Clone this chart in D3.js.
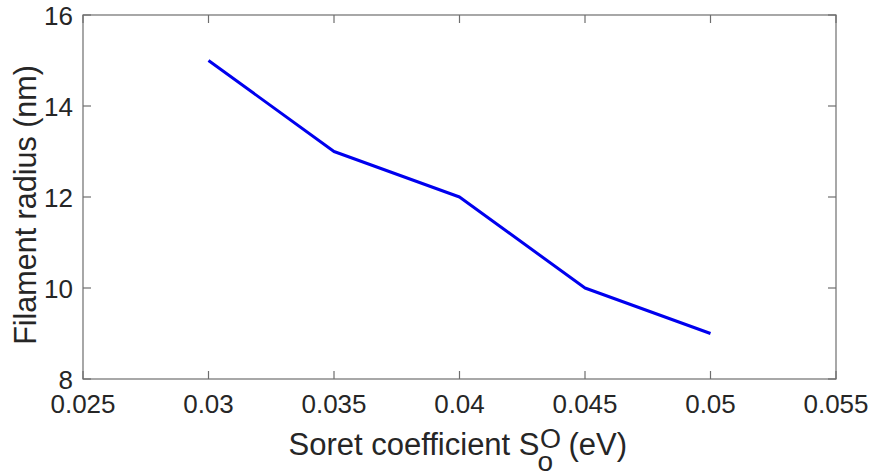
<!DOCTYPE html>
<html><head><meta charset="utf-8">
<script src="https://cdn.jsdelivr.net/npm/d3@7"></script>
<style>
body{margin:0;background:#fff;}
svg text{font-family:"Liberation Sans",Arial,sans-serif;fill:#262626;}
</style></head>
<body><svg id="c" width="873" height="474"></svg>
<script>
const xValues = [0.03, 0.035, 0.04, 0.045, 0.05];
const radius = [15, 13, 12, 10, 9];
const xTicks = [0.025, 0.03, 0.035, 0.04, 0.045, 0.05, 0.055];
const yTicks = [8, 10, 12, 14, 16];

const svg = d3.select("#c");
const L = 83, R = 836, T = 15, B = 379;
const x = d3.scaleLinear().domain([0.025, 0.055]).range([L, R]);
const y = d3.scaleLinear().domain([8, 16]).range([B, T]);
const axisColor = "#6e6e6e";
const tl = 8;

const g = svg.append("g");
g.append("rect").attr("x", L).attr("y", T).attr("width", R - L).attr("height", B - T)
  .attr("fill", "none").attr("stroke", axisColor).attr("stroke-width", 1.2);

xTicks.forEach(t => {
  g.append("line").attr("x1", x(t)).attr("x2", x(t)).attr("y1", B).attr("y2", B - tl).attr("stroke", axisColor).attr("stroke-width", 1.2);
  g.append("line").attr("x1", x(t)).attr("x2", x(t)).attr("y1", T).attr("y2", T + tl).attr("stroke", axisColor).attr("stroke-width", 1.2);
  g.append("text").attr("x", x(t)).attr("y", 413).attr("text-anchor", "middle")
    .attr("font-size", 26).text(String(t));
});
yTicks.forEach(t => {
  g.append("line").attr("x1", L).attr("x2", L + tl).attr("y1", y(t)).attr("y2", y(t)).attr("stroke", axisColor).attr("stroke-width", 1.2);
  g.append("line").attr("x1", R).attr("x2", R - tl).attr("y1", y(t)).attr("y2", y(t)).attr("stroke", axisColor).attr("stroke-width", 1.2);
  g.append("text").attr("x", 73).attr("y", y(t) + 10).attr("text-anchor", "end")
    .attr("font-size", 26).text(String(t));
});

const line = d3.line().x((d, i) => x(xValues[i])).y(d => y(d));
g.append("path").datum(radius).attr("d", line).attr("fill", "none")
  .attr("stroke", "#0000ee").attr("stroke-width", 3).attr("stroke-linejoin", "round");

// x label built from pieces
const fs = 31, base = 455;
const xl = g.append("g");
const p1 = xl.append("text").attr("x", 288.5).attr("y", base).attr("font-size", fs).text("Soret coefficient S");
const w1 = p1.node().getComputedTextLength();
const e1 = 288.5 + w1;
xl.append("text").attr("x", e1 + 0.5).attr("y", base - 7.5).attr("font-size", 27).text("O");
xl.append("text").attr("x", e1 - 2).attr("y", base + 16).attr("font-size", 28).text("o");
xl.append("text").attr("x", e1 + 29).attr("y", base).attr("font-size", fs).text("(eV)");

g.append("text").attr("transform", `translate(36,205) rotate(-90)`)
  .attr("text-anchor", "middle").attr("font-size", 30.5).text("Filament radius (nm)");
</script></body></html>
